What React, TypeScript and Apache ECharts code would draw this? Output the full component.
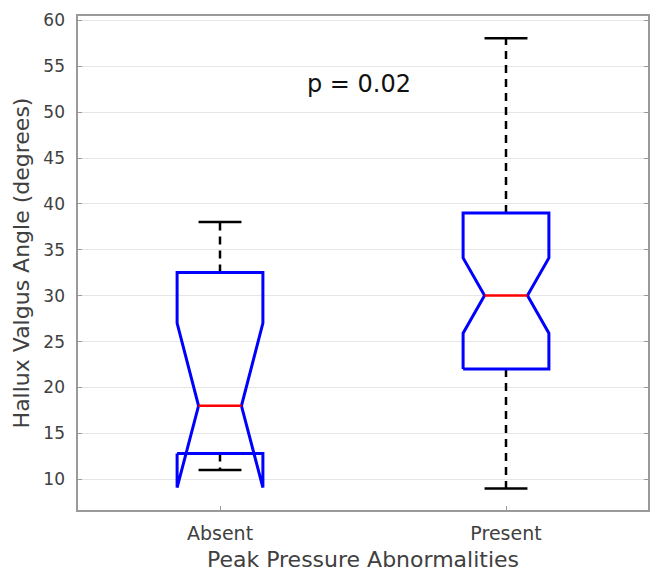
import React, { useEffect, useRef } from "react";
import * as echarts from "echarts";

const categories = ["Absent", "Present"];
const q1 = [12.8, 22];
const median = [18, 30];
const q3 = [32.5, 39];
const notchLo = [9.1, 25.9];
const notchHi = [27, 34.1];
const whiskerLo = [11, 9];
const whiskerHi = [38, 58];
const yTicks = [10, 15, 20, 25, 30, 35, 40, 45, 50, 55, 60];
const pText = "p = 0.02";

const FONT = "DejaVu Sans";

export default function App() {
  const ref = useRef<HTMLDivElement>(null);
  useEffect(() => {
    if (!ref.current) return;
    const chart = echarts.init(ref.current, undefined, { renderer: "svg" });
    const data = categories.map((c, i) => [
      i,
      q1[i],
      median[i],
      q3[i],
      notchLo[i],
      notchHi[i],
      whiskerLo[i],
      whiskerHi[i],
    ]);
    const renderItem = (params: any, api: any) => {
      const idx = api.value(0);
      const band = api.size([1, 0])[0];
      const halfBox = band * 0.15;
      const halfNotch = band * 0.075;
      const cx = api.coord([idx, 0])[0];
      const Y = (v: number) => api.coord([idx, v])[1];
      const vq1 = api.value(1),
        vmed = api.value(2),
        vq3 = api.value(3),
        vnl = api.value(4),
        vnh = api.value(5),
        vwl = api.value(6),
        vwh = api.value(7);
      const L = cx - halfBox,
        R = cx + halfBox,
        iL = cx - halfNotch,
        iR = cx + halfNotch;
      const boxPts = [
        [L, Y(vq1)],
        [L, Y(vnl)],
        [iL, Y(vmed)],
        [L, Y(vnh)],
        [L, Y(vq3)],
        [R, Y(vq3)],
        [R, Y(vnh)],
        [iR, Y(vmed)],
        [R, Y(vnl)],
        [R, Y(vq1)],
        [L, Y(vq1)],
      ];
      const dash = { stroke: "#000", lineWidth: 2.5, lineDash: [8, 6] };
      const cap = { stroke: "#000", lineWidth: 2.5 };
      return {
        type: "group",
        children: [
          { type: "line", shape: { x1: cx, y1: Y(vq3), x2: cx, y2: Y(vwh) }, style: dash },
          { type: "line", shape: { x1: cx, y1: Y(vq1), x2: cx, y2: Y(vwl) }, style: dash },
          { type: "line", shape: { x1: iL, y1: Y(vwh), x2: iR, y2: Y(vwh) }, style: cap },
          { type: "line", shape: { x1: iL, y1: Y(vwl), x2: iR, y2: Y(vwl) }, style: cap },
          {
            type: "polyline",
            shape: { points: boxPts },
            style: { stroke: "#0000ff", lineWidth: 3, fill: "none", lineJoin: "miter" },
          },
          { type: "line", shape: { x1: iL, y1: Y(vmed), x2: iR, y2: Y(vmed) }, style: { stroke: "#ff0000", lineWidth: 2.5 } },
        ],
      };
    };
    chart.setOption({
      animation: false,
      backgroundColor: "#ffffff",
      textStyle: { fontFamily: FONT },
      grid: {
        left: 77,
        right: 6,
        top: 15,
        bottom: 59,
        show: true,
        borderColor: "#9a9a9a",
        borderWidth: 2,
        backgroundColor: "#ffffff",
      },
      xAxis: {
        type: "category",
        data: categories,
        boundaryGap: true,
        axisLine: { show: false },
        axisTick: { show: true, alignWithLabel: true, inside: true, length: 5, lineStyle: { color: "#9a9a9a" } },
        axisLabel: { color: "#404040", fontFamily: FONT, fontSize: 19, margin: 12 },
        splitLine: { show: false },
        name: "Peak Pressure Abnormalities",
        nameLocation: "middle",
        nameGap: 37,
        nameTextStyle: { color: "#404040", fontFamily: FONT, fontSize: 22 },
      },
      yAxis: [
        {
          type: "value",
          min: 6.55,
          max: 60.54,
          axisLine: { show: false },
          axisTick: { show: true, inside: true, length: 5, customValues: yTicks, lineStyle: { color: "#9a9a9a" } },
          axisLabel: { color: "#404040", fontFamily: FONT, fontSize: 17, margin: 12, customValues: yTicks },
          splitLine: { show: true, lineStyle: { color: "#e6e6e6", width: 1 } },
          name: "Hallux Valgus Angle (degrees)",
          nameLocation: "middle",
          nameGap: 40,
          nameTextStyle: { color: "#404040", fontFamily: FONT, fontSize: 22 },
        },
        {
          type: "value",
          min: 6.55,
          max: 60.54,
          position: "right",
          axisLine: { show: false },
          axisTick: { show: true, inside: true, length: 5, customValues: yTicks, lineStyle: { color: "#9a9a9a" } },
          axisLabel: { show: false },
          splitLine: { show: false },
        },
      ],
      series: [
        {
          type: "custom",
          renderItem,
          data,
          encode: { x: 0, y: [1, 2, 3, 4, 5, 6, 7] },
          clip: false,
        },
      ],
      graphic: [
        {
          type: "text",
          left: 307,
          top: 72,
          style: { text: pText, fill: "#111", font: `24px "${FONT}"` },
        },
      ],
    });
    return () => chart.dispose();
  }, []);
  return (
    <div
      ref={ref}
      style={{ position: "fixed", left: 0, top: 0, width: 655, height: 575 }}
    />
  );
}
